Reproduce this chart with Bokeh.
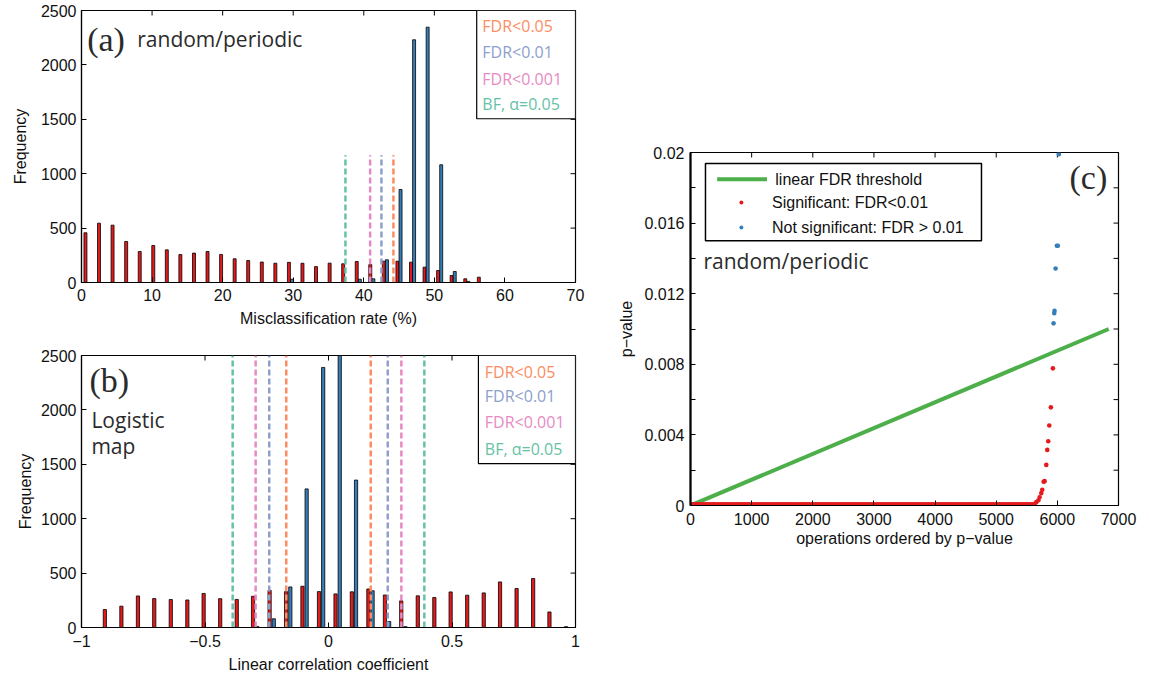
from bokeh.plotting import figure
from bokeh.layouts import row, column
from bokeh.models import FixedTicker, Range1d, ColumnDataSource
from bokeh.transform import dodge
from bokeh.core.properties import value
from bokeh.embed import file_html
from bokeh.resources import INLINE

# ---------------- data: panel (a) misclassification rate ----------------
bins_a = [0.78, 2.70, 4.62, 6.55, 8.47, 10.39, 12.31, 14.23, 16.16, 18.08,
          20.00, 21.92, 23.84, 25.77, 27.69, 29.61, 31.53, 33.45, 35.38, 37.30,
          39.22, 41.14, 43.06, 44.99, 46.91, 48.83, 50.75, 52.67, 54.60, 56.52]
red_a = [457, 545, 527, 377, 285, 340, 300, 257, 270, 285,
         258, 218, 202, 188, 177, 185, 177, 146, 178, 172,
         193, 165, 196, 196, 187, 141, 110, 64, 34, 49]
blue_a = [0, 0, 0, 0, 0, 0, 0, 0, 0, 0,
          0, 0, 0, 0, 0, 30, 0, 0, 0, 0,
          30, 34, 209, 855, 2231, 2347, 1082, 101, 10, 0]
thr_labels = ["FDR<0.05", "FDR<0.01", "FDR<0.001", "BF, α=0.05"]
thr_a = [44.2, 42.5, 40.9, 37.4]
thr_a_top = 1170

# ---------------- data: panel (b) linear correlation ----------------
bins_b = [-0.897, -0.830, -0.763, -0.697, -0.630, -0.563, -0.497, -0.430, -0.363, -0.297,
          -0.230, -0.163, -0.097, -0.030, 0.037, 0.103, 0.170, 0.237, 0.303, 0.370,
          0.437, 0.503, 0.570, 0.637, 0.703, 0.770, 0.837, 0.903, 0.970]
red_b = [165, 196, 290, 266, 257, 253, 313, 265, 258, 287,
         342, 330, 379, 330, 309, 328, 354, 299, 245, 291,
         276, 327, 297, 318, 419, 358, 450, 143, 8]
blue_b = [0, 0, 0, 0, 0, 0, 0, 0, 0, 10,
          80, 373, 1274, 2390, 2560, 1355, 338, 55, 8, 0,
          0, 0, 0, 0, 0, 0, 0, 0, 0]
thr_b = [0.171, 0.240, 0.295, 0.388]
thr_b_top = 2500

# ---------------- data: panel (c) ordered p-values ----------------
thr_rank = [0, 6840]
thr_p = [0.0, 0.01]
sig_rank_low = [0, 50, 100, 150, 200, 250, 300, 350, 400, 450, 500, 550, 600, 650, 700,
                750, 800, 850, 900, 950, 1000, 1050, 1100, 1150, 1200, 1250, 1300, 1350,
                1400, 1450, 1500, 1550, 1600, 1650, 1700, 1750, 1800, 1850, 1900, 1950,
                2000, 2050, 2100, 2150, 2200, 2250, 2300, 2350, 2400, 2450, 2500, 2550,
                2600, 2650, 2700, 2750, 2800, 2850, 2900, 2950, 3000, 3050, 3100, 3150,
                3200, 3250, 3300, 3350, 3400, 3450, 3500, 3550, 3600, 3650, 3700, 3750,
                3800, 3850, 3900, 3950, 4000, 4050, 4100, 4150, 4200, 4250, 4300, 4350,
                4400, 4450, 4500, 4550, 4600, 4650, 4700, 4750, 4800, 4850, 4900, 4950,
                5000, 5050, 5100, 5150, 5200, 5250, 5300, 5350, 5400, 5450, 5500, 5550, 5600]
sig_p_low = 0.0
sig_rank_tail = [5630, 5656, 5690, 5710, 5737, 5753, 5775, 5791, 5819, 5835, 5851, 5868, 5894, 5927]
sig_p_tail = [0.0001, 0.00019, 0.0003, 0.00047, 0.0007, 0.00089, 0.00135, 0.00138,
              0.0023, 0.00315, 0.00364, 0.00453, 0.00556, 0.00777]
ns_rank = [5938, 5949, 5954, 5971, 5992, 6008, 6025]
ns_p = [0.01032, 0.01089, 0.01103, 0.01343, 0.01472, 0.01472, 0.0199]

x_ticks_a = [0, 10, 20, 30, 40, 50, 60, 70]
y_ticks_hist = [0, 500, 1000, 1500, 2000, 2500]
x_ticks_b = [-1, -0.5, 0, 0.5, 1]
x_labels_b = {-1: "\u22121", -0.5: "\u22120.5", 0: "0", 0.5: "0.5", 1: "1"}
x_ticks_c = [0, 1000, 2000, 3000, 4000, 5000, 6000, 7000]
y_ticks_c = [0, 0.002, 0.004, 0.006, 0.008, 0.010, 0.012, 0.014, 0.016, 0.018, 0.020]
y_labels_c = {0: "0", 0.002: "", 0.004: "0.004", 0.006: "", 0.008: "0.008", 0.010: "",
              0.012: "0.012", 0.014: "", 0.016: "0.016", 0.018: "", 0.020: "0.02"}

# ---------------- styles ----------------
RED = "#e41a1c"
BLUE = "#377eb8"
GREEN = "#4daf4a"
SET2 = ["#fc8d62", "#8da0cb", "#e78ac3", "#66c2a5"]
SANS = "Liberation Sans"
MYR = "Open Sans"
SERIF = "Liberation Serif"
TXT = "#2b2b2b"
TICK = 5  # px


def style(p, xt, yt, fw, fh, xover=None, yover=None):
    p.grid.visible = False
    p.outline_line_color = "black"
    p.outline_line_width = 1.2
    p.background_fill_color = "white"
    p.border_fill_color = "white"
    xa, ya = p.below[0], p.left[0]
    xa.ticker = FixedTicker(ticks=xt)
    ya.ticker = FixedTicker(ticks=yt)
    if xover:
        xa.major_label_overrides = xover
    if yover:
        ya.major_label_overrides = yover
    for ax in (xa, ya):
        ax.major_tick_in = TICK
        ax.major_tick_out = 0
        ax.minor_tick_line_color = None
        ax.axis_line_color = "black"
        ax.axis_line_width = 1.2
        ax.major_label_text_font = SANS
        ax.major_label_text_font_size = "16px"
        ax.major_label_text_color = "#111111"
        ax.axis_label_text_font = SANS
        ax.axis_label_text_font_size = "16px"
        ax.axis_label_text_font_style = "normal"
        ax.axis_label_text_color = "#111111"
    # mirrored inward ticks on the top and right edges of the box
    x0, x1 = p.x_range.start, p.x_range.end
    y0, y1 = p.y_range.start, p.y_range.end
    dy = TICK * (y1 - y0) / fh
    dx = TICK * (x1 - x0) / fw
    p.segment(x0=xt, y0=y1, x1=xt, y1=y1 - dy, line_color="black", line_width=1)
    p.segment(x0=x1, y0=yt, x1=x1 - dx, y1=yt, line_color="black", line_width=1)
    return xa, ya


# ---------------- panel (a) ----------------
fa = figure(width=600, height=340, x_range=Range1d(0, 70), y_range=Range1d(0, 2500),
            output_backend="svg", toolbar_location=None,
            min_border_left=70, min_border_right=25, min_border_top=10, min_border_bottom=58)
xa, ya = style(fa, x_ticks_a, y_ticks_hist, 499, 272)
xa.axis_label = "Misclassification rate (%)"
ya.axis_label = "Frequency"
xa.major_label_standoff = 6
xa.axis_label_standoff = 6
ya.major_label_standoff = 5
ya.axis_label_standoff = 9

src_a = ColumnDataSource(dict(x=bins_a, red=red_a, blue=blue_a))
fa.vbar(x=dodge("x", -0.22), top="red", width=0.42, source=src_a,
        fill_color=RED, line_color="black", line_width=0.8)
fa.vbar(x=dodge("x", 0.22), top="blue", width=0.42, source=src_a,
        fill_color=BLUE, line_color="black", line_width=0.8)
fa.segment(x0=thr_a, y0=0, x1=thr_a, y1=thr_a_top, line_color=SET2,
           line_width=2.5, line_dash="6 3")
fa.quad(left=[56.0], right=[70], bottom=[1505], top=[2500],
        fill_color="white", line_color="black", line_width=1.2)
fa.text(x=[56.8] * 4, y=[2353, 2117, 1872, 1642], text=thr_labels, text_color=SET2,
        text_font=value(MYR), text_font_size="16px", text_baseline="middle", text_align="left")
fa.text(x=[0.8], y=[2233], text=["(a)"], text_font=value(SERIF), text_font_size="34px",
        text_baseline="middle", text_color=TXT)
fa.text(x=[7.9], y=[2240], text=["random/periodic"], text_font=value(MYR),
        text_font_size="21px", text_baseline="middle", text_color=TXT)

# ---------------- panel (b) ----------------
fb = figure(width=600, height=337, x_range=Range1d(-1, 1), y_range=Range1d(0, 2500),
            output_backend="svg", toolbar_location=None,
            min_border_left=81, min_border_right=17, min_border_top=15, min_border_bottom=50)
xb, yb = style(fb, x_ticks_b, y_ticks_hist, 500, 272, xover=x_labels_b)
xb.axis_label = "Linear correlation coefficient"
yb.axis_label = "Frequency"
xb.major_label_standoff = 7
xb.axis_label_standoff = 6
yb.major_label_standoff = 5
yb.axis_label_standoff = 4

src_b = ColumnDataSource(dict(x=bins_b, red=red_b, blue=blue_b))
fb.vbar(x=dodge("x", -0.0085), top="red", width=0.013, source=src_b,
        fill_color=RED, line_color="black", line_width=0.8)
fb.vbar(x=dodge("x", 0.0085), top="blue", width=0.013, source=src_b,
        fill_color=BLUE, line_color="black", line_width=0.8)
thr_b_x = [-t for t in thr_b] + thr_b
fb.segment(x0=thr_b_x, y0=0, x1=thr_b_x, y1=thr_b_top, line_color=SET2 + SET2,
           line_width=2.5, line_dash="6 3")
fb.quad(left=[0.607], right=[1], bottom=[1506], top=[2500],
        fill_color="white", line_color="black", line_width=1.2)
fb.text(x=[0.633] * 4, y=[2347, 2124, 1888, 1644], text=thr_labels, text_color=SET2,
        text_font=value(MYR), text_font_size="16px", text_baseline="middle", text_align="left")
fb.text(x=[-0.968], y=[2271], text=["(b)"], text_font=value(SERIF), text_font_size="34px",
        text_baseline="middle", text_color=TXT)
fb.text(x=[-0.96, -0.96], y=[1905, 1665], text=["Logistic", "map"], text_font=value(MYR),
        text_font_size="21px", text_baseline="middle", text_color=TXT)

# ---------------- panel (c) ----------------
fc = figure(width=549, height=677, x_range=Range1d(0, 7000), y_range=Range1d(0, 0.02),
            output_backend="svg", toolbar_location=None,
            min_border_left=90, min_border_right=31, min_border_top=152, min_border_bottom=172)
xc, yc = style(fc, x_ticks_c, y_ticks_c, 428, 353, yover=y_labels_c)
yc.axis_line_width = 2.2
xc.axis_label = "operations ordered by p\u2212value"
yc.axis_label = "p\u2212value"
xc.major_label_standoff = 7
xc.axis_label_standoff = 2
yc.major_label_standoff = 6
yc.axis_label_standoff = 6

fc.line(x=thr_rank, y=thr_p, line_color=GREEN, line_width=4)
fc.scatter(x=sig_rank_low, y=sig_p_low, size=7, fill_color=RED, line_color=None)
fc.scatter(x=sig_rank_tail, y=sig_p_tail, size=4.6, fill_color=RED, line_color=None)
fc.scatter(x=ns_rank, y=ns_p, size=4.6, fill_color=BLUE, line_color=None)

fc.quad(left=[245], right=[4759], bottom=[0.0150], top=[0.01938],
        fill_color="white", line_color="black", line_width=1.5)
fc.line(x=[436, 1251], y=[0.01849, 0.01849], line_color=GREEN, line_width=4)
fc.scatter(x=[832], y=[0.01717], size=4, fill_color=RED, line_color=None)
fc.scatter(x=[832], y=[0.01575], size=4, fill_color=BLUE, line_color=None)
fc.text(x=[1387, 1333, 1333], y=[0.01849, 0.01717, 0.01575],
        text=["linear FDR threshold", "Significant: FDR<0.01", "Not significant: FDR > 0.01"],
        text_font=value(SANS), text_font_size="16px", text_baseline="middle", text_color="#111111")
fc.text(x=[212], y=[0.01387], text=["random/periodic"], text_font=value(MYR),
        text_font_size="21px", text_baseline="middle", text_color=TXT)
fc.text(x=[6199], y=[0.01857], text=["(c)"], text_font=value(SERIF), text_font_size="34px",
        text_baseline="middle", text_color=TXT)

layout = row(column(fa, fb), fc)
open("out.html", "w").write(file_html(layout, INLINE))
